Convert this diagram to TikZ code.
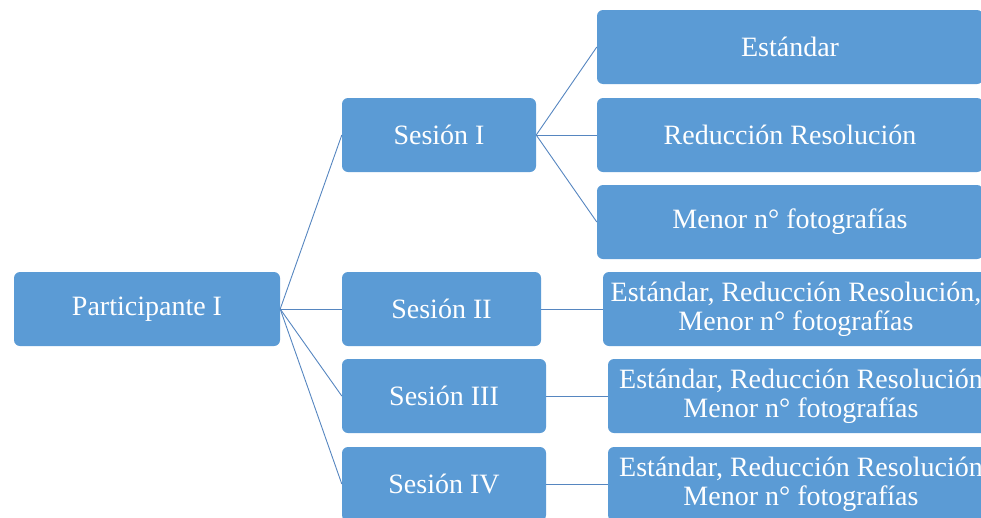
\documentclass[tikz,border=0pt]{standalone}
\usepackage{fontspec}
\setmainfont{Liberation Serif}
\usepackage{xcolor}
\definecolor{boxblue}{RGB}{91,155,213}
\definecolor{linkblue}{RGB}{86,134,192}

\begin{document}
\begin{tikzpicture}[x=1pt, y=-1pt,
  box/.style={fill=boxblue, rounded corners=6pt, text=white, align=center,
    inner sep=0pt, minimum height=74pt, font=\fontsize{28}{29}\selectfont},
  link/.style={linkblue, line width=0.9pt}]
  \useasboundingbox (0,0) rectangle (981,517);
  \clip (0,0) rectangle (981,517);
  % root
  \node[box, minimum width=266pt] (part) at (147,309) {Participante I};
  % sessions
  \node[box, minimum width=194pt] (s1) at (439,135) {Sesión I};
  \node[box, minimum width=199pt] (s2) at (441.5,309) {Sesión II};
  \node[box, minimum width=204pt] (s3) at (444,396) {Sesión III};
  \node[box, minimum width=204pt] (s4) at (444,484) {Sesión IV};
  % variants of session I
  \node[box, minimum width=386pt] (v1) at (790,47) {Estándar};
  \node[box, minimum width=386pt] (v2) at (790,135) {Reducción Resolución};
  \node[box, minimum width=386pt] (v3) at (790,222) {Menor n° fotografías};
  % variants of sessions II to IV
  \node[box, minimum width=386pt] (a2) at (796,309) {Estándar, Reducción Resolución,\\Menor n° fotografías};
  \node[box, minimum width=386pt] (a3) at (801,396) {Estándar, Reducción Resolución\\Menor n° fotografías};
  \node[box, minimum width=386pt] (a4) at (801,484) {Estándar, Reducción Resolución\\Menor n° fotografías};
  % links
  \foreach \s in {s1,s2,s3,s4}
    \draw[link] (part.east) -- (\s.west);
  \foreach \v in {v1,v2,v3}
    \draw[link] (s1.east) -- (\v.west);
  \foreach \k in {2,3,4}
    \draw[link] (s\k.east) -- (a\k.west);
\end{tikzpicture}
\end{document}
